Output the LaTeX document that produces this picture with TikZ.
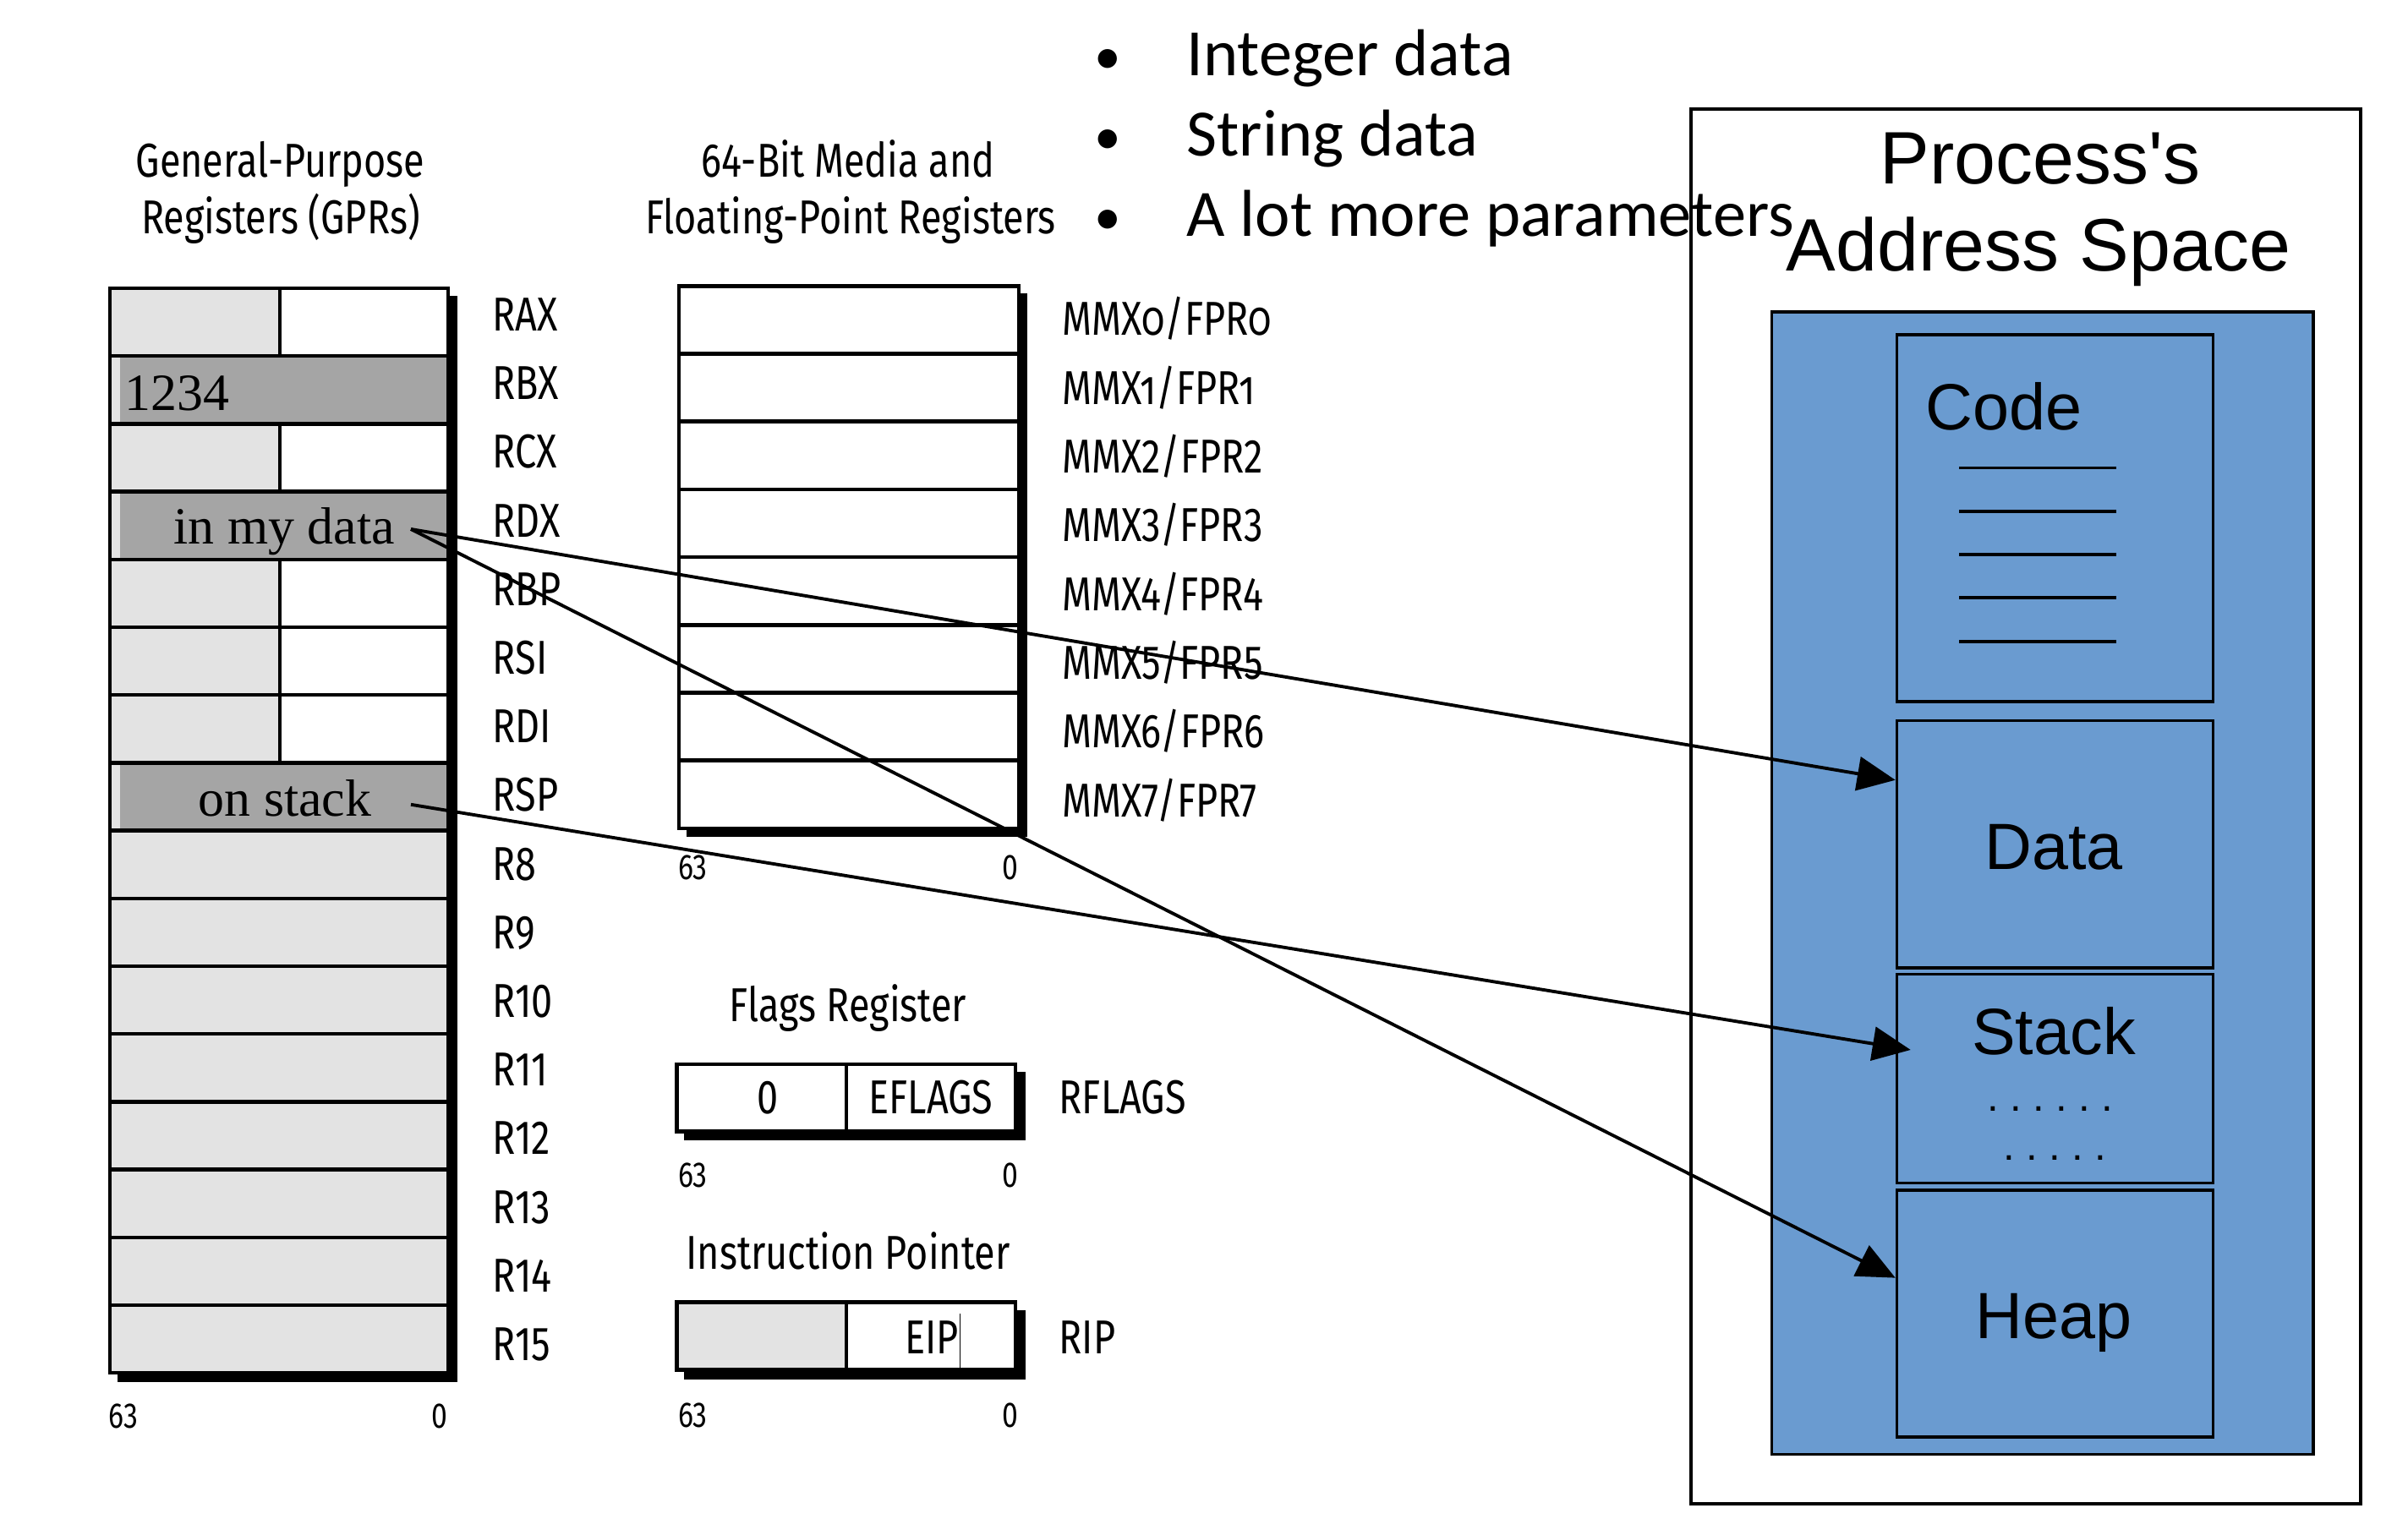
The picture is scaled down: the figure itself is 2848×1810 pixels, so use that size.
\documentclass[tikz,border=0pt]{standalone}
\usepackage{fontspec}
\setmainfont{Liberation Serif}
\newfontfamily\condf[FakeStretch=0.8]{Fira Sans}
\newfontfamily\condos[FakeStretch=0.8,Numbers=OldStyle]{Fira Sans}
\newfontfamily\arialf{Liberation Sans}
\newfontfamily\calif{Carlito}
\usetikzlibrary{arrows.meta,calc}
\definecolor{lgray}{HTML}{E3E3E3}
\definecolor{dgray}{HTML}{A5A5A5}
\definecolor{blu}{HTML}{6A9BD0}
\newcommand\dotk{\kern0.133cm}
\tikzset{
  lbl/.style={font=\condf\fontsize{16}{18}\selectfont, anchor=base west, inner sep=0},
  ttl/.style={font=\condf\fontsize{16}{18}\selectfont, anchor=base, inner sep=0},
  bitl/.style={font=\condf\fontsize{12}{14}\selectfont, anchor=base, inner sep=0},
  bitlw/.style={bitl, anchor=base west},
  gridl/.style={line width=1.3pt},
  shade/.style={fill=black},
  outerbox/.style={draw=black, line width=1pt, fill=white, inner sep=0, anchor=north west},
  seg/.style={draw=black, line width=1pt, fill=blu, inner sep=0, anchor=north west},
  big/.style={font=\arialf\fontsize{25}{28}\selectfont, inner sep=0, anchor=base},
  mid/.style={font=\arialf\fontsize{22}{26}\selectfont, inner sep=0, anchor=base},
  dotsty/.style={font=\arialf\fontsize{14}{16}\selectfont, inner sep=0, anchor=base west},
  tms/.style={font=\fontsize{17.6}{20}\selectfont, inner sep=0, anchor=base west},
  bul/.style={font=\calif\fontsize{22.3}{26}\selectfont, inner sep=0},
  arr/.style={line width=1.1pt, -{Triangle[length=0.45cm,width=0.4cm]}},
}
\begin{document}
\begin{tikzpicture}[x=0.01cm,y=-0.01cm]
\useasboundingbox (0,0) rectangle (2848,1810);

% ---------- address space frame (drawn first, texts overlap it) ----------
\node[outerbox, minimum width=7.916cm, minimum height=16.494cm] (outer) at (1998,127) {};

% ---------- titles ----------
\node[ttl] (t1a) at (331.5,210) {General-Purpose};
\node[ttl] (t1b) at (332,276.7) {Registers (GPRs)};
\node[ttl] (t2a) at (1003,210) {64-Bit Media and};
\node[ttl] (t2b) at (1006,276.7) {Floating-Point Registers};
\node[ttl] (t3) at (1003,1208.6) {Flags Register};
\node[ttl] (t4) at (1003,1501.3) {Instruction Pointer};

% ---------- GPR block ----------
\fill[shade] (139,350) rectangle (541,1635);
\fill[lgray] (130,341) rectangle (530,1624.2);
\foreach \i in {0,2,4,5,6}
  \fill[white] (331,{341+\i*80.2}) rectangle (530,{341+(\i+1)*80.2});
\foreach \i in {1,3,7}
  \fill[dgray] (142,{341+\i*80.2}) rectangle (530,{341+(\i+1)*80.2});
\foreach \i in {1,...,15}
  \draw[gridl] (130,{341+\i*80.2}) -- (530,{341+\i*80.2});
\foreach \i in {0,2,4,5,6}
  \draw[gridl] (331,{341+\i*80.2}) -- (331,{341+(\i+1)*80.2});
\draw[gridl] (130,341) rectangle (530,1624.2);
\foreach \n [count=\i from 0] in {RAX,RBX,RCX,RDX,RBP,RSI,RDI,RSP,R8,R9,R10,R11,R12,R13,R14,R15}
  \node[lbl] (g\i) at (582,{391.5+\i*81.2}) {\n};
\node[bitlw] (g63) at (127.7,1689) {63};
\node[bitl] (g0) at (520,1689) {0};

\node[tms] (v1234) at (147,485.3) {1234};
\node[tms] (vdata) at (205,643.7) {in my data};
\node[tms] (vstack) at (234,966) {on stack};

% ---------- MMX block ----------
\fill[shade] (812,347.3) rectangle (1215,990);
\fill[white] (803,338.3) rectangle (1205,980);
\foreach \i in {1,...,7}
  \draw[gridl] (803,{338.3+\i*80.2}) -- (1205,{338.3+\i*80.2});
\draw[gridl] (803,338.3) rectangle (1205,980);
\foreach \n [count=\i from 0] in {{\condos MMX0/FPR0},{\condos MMX1/FPR1},MMX2/FPR2,MMX3/FPR3,MMX4/FPR4,MMX5/FPR5,MMX6/FPR6,MMX7/FPR7}
  \node[lbl] (m\i) at (1255.5,{397+\i*81.3}) {\n};
\node[bitlw] (m63) at (801.4,1040.8) {63};
\node[bitl] (m0) at (1194.5,1040.8) {0};

% ---------- RFLAGS ----------
\fill[shade] (809.4,1267.8) rectangle (1212.7,1348.8);
\fill[white] (800.4,1258.8) rectangle (1201,1338.4);
\draw[gridl] (1001,1258.8) -- (1001,1338.4);
\draw[gridl] (800.4,1258.8) rectangle (1201,1338.4);
\node[ttl] (fz) at (908,1317.7) {0};
\node[ttl] (fe) at (1101,1317.7) {EFLAGS};
\node[lbl] (fr) at (1252,1317.7) {RFLAGS};
\node[bitlw] (f63) at (801.4,1404.7) {63};
\node[bitl] (f0) at (1194.5,1404.7) {0};

% ---------- RIP ----------
\fill[shade] (809.4,1549.7) rectangle (1212.7,1632);
\fill[white] (800.4,1540.7) rectangle (1201,1620.3);
\fill[lgray] (800.4,1540.7) rectangle (1001,1620.3);
\draw[gridl] (1001,1540.7) -- (1001,1620.3);
\draw[gridl] (800.4,1540.7) rectangle (1201,1620.3);
\node[ttl] (ie) at (1102,1601.7) {EIP};
\draw[line width=0.4pt] (1135.6,1554) -- (1135.6,1618);
\node[lbl] (ir) at (1252,1601.7) {RIP};
\node[bitlw] (i63) at (801.4,1688) {63};
\node[bitl] (i0) at (1194.5,1688) {0};

% ---------- bullets ----------
\foreach \t [count=\i from 0] in {Integer data,String data,A lot more parameters}{
  \node[bul, anchor=base, font=\calif\fontsize{18}{20}\selectfont] (b\i) at (1310.6,{88+\i*95}) {•};
  \node[bul, anchor=base west] (bt\i) at (1403,{90+\i*95}) {\t};
}

% ---------- address space ----------
\node[big] (pa) at (2413,217.7) {Process's};
\node[big] (pb) at (2411,321) {Address Space};
\node[seg, minimum width=6.404cm, minimum height=13.51cm] (blue) at (2093.6,367) {};
\node[seg, minimum width=3.738cm, minimum height=4.34cm] (code) at (2241.7,394) {};
\node[seg, minimum width=3.738cm, minimum height=2.921cm] (data) at (2241.7,850.9) {};
\node[seg, minimum width=3.738cm, minimum height=2.469cm] (stack) at (2241.7,1150.8) {};
\node[seg, minimum width=3.738cm, minimum height=2.923cm] (heap) at (2241.7,1406) {};
\node[mid, anchor=base west] (codet) at (2277,508.7) {Code};
\foreach \y in {553.5,605,655.7,707.3,759}
  \draw[line width=1.1pt] (2317,\y) -- (2503,\y);
\node[mid] (datat) at (2429,1028.4) {Data};
\node[mid] (stackt) at (2429,1247) {Stack};
\node[dotsty] (dots1) at (2350,1314) {.\dotk.\dotk.\dotk.\dotk.\dotk.};
\node[dotsty] (dots2) at (2369,1372) {.\dotk.\dotk.\dotk.\dotk.};
\node[mid] (heapt) at (2429,1583.7) {Heap};

% ---------- connectors ----------
\coordinate (srcA) at (486,626);
\coordinate (srcB) at (486,951.8);
\coordinate (dIn) at ($(data.north west)!0.243!(data.south west)$);
\coordinate (sIn) at ($(stack.north west)!0.364!(stack.south west)+(18,0)$);
\coordinate (hIn) at ($(heap.north west)!0.357!(heap.south west)$);
\draw[arr] (srcA) -- (dIn);
\draw[arr] (srcA) -- (hIn);
\draw[arr] (srcB) -- (sIn);
\end{tikzpicture}
\end{document}
